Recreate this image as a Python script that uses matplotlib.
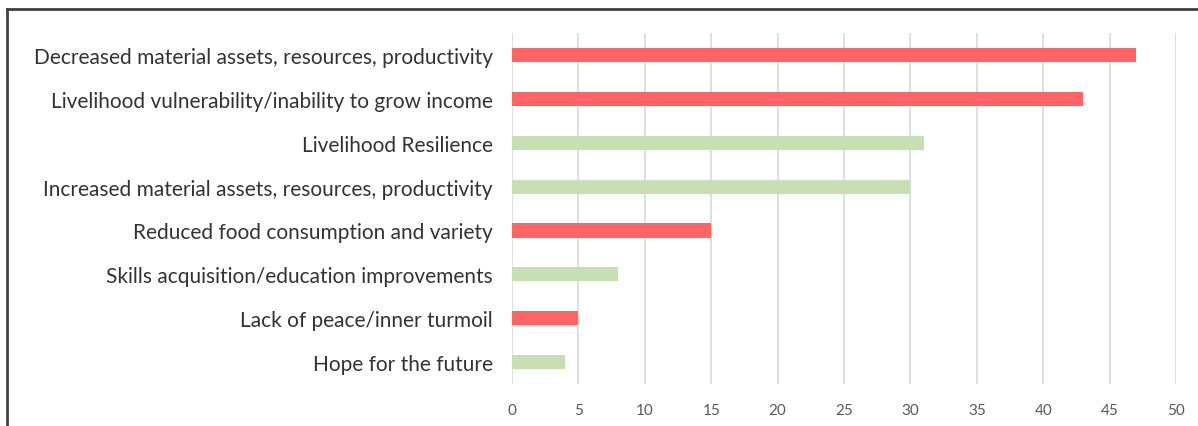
import matplotlib
matplotlib.use("Agg")
import matplotlib.pyplot as plt
from matplotlib.lines import Line2D

# outcomes, top to bottom
labels = [
    "Decreased material assets, resources, productivity",
    "Livelihood vulnerability/inability to grow income",
    "Livelihood Resilience",
    "Increased material assets, resources, productivity",
    "Reduced food consumption and variety",
    "Skills acquisition/education improvements",
    "Lack of peace/inner turmoil",
    "Hope for the future",
]
counts = [47, 43, 31, 30, 15, 8, 5, 4]
negative = [True, True, False, False, True, False, True, False]

red = "#FF6464"
green = "#C6E0B4"
colors = [red if n else green for n in negative]

plt.rcParams['font.family'] = ['Lato', 'DejaVu Sans']

fig = plt.figure(figsize=(11.98, 4.27), dpi=100)
ax = fig.add_axes([0.4274, 0.0984, 0.5542, 0.8216])

pos = list(range(len(labels)))
ax.barh(pos, counts, height=0.32, color=colors, zorder=3)
ax.set_ylim(len(labels) - 0.5, -0.5)
ax.set_xlim(0, 50)
ax.set_xticks(range(0, 51, 5))
ax.set_yticks(pos)
ax.set_yticklabels(labels, fontsize=15, color="#333333")
ax.tick_params(axis="x", labelsize=11, colors="#595959", length=0, pad=14)
ax.tick_params(axis="y", length=0, pad=14)
ax.grid(axis="x", color="#D9D9D9", linewidth=1.2, zorder=0)
for s in ax.spines.values():
    s.set_visible(False)

# frame around the chart (only left and top fall inside the image)
fig.add_artist(Line2D([7 / 1198, 7 / 1198], [0, 1 - 10 / 427], transform=fig.transFigure, color="#404040", linewidth=2))
fig.add_artist(Line2D([7 / 1198, 1], [1 - 10 / 427, 1 - 10 / 427], transform=fig.transFigure, color="#404040", linewidth=2))

fig.savefig("out.png", dpi=100)
